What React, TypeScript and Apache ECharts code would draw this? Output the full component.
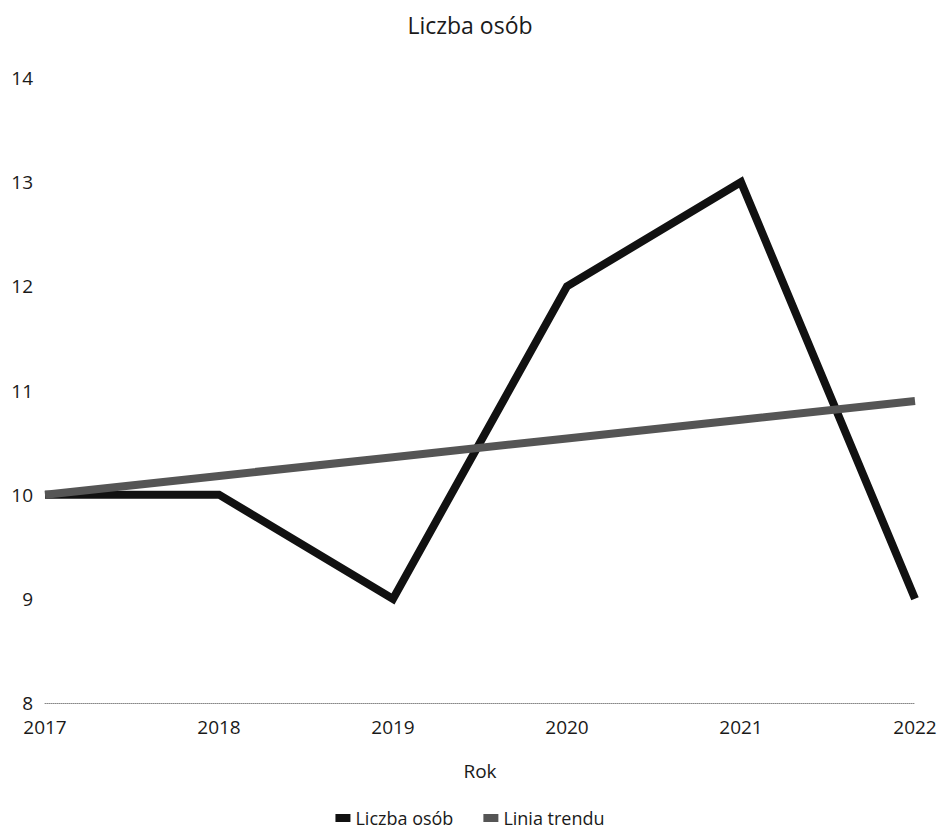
import React, { useEffect, useRef } from "react";
import * as echarts from "echarts";

const years = ["2017", "2018", "2019", "2020", "2021", "2022"];
const liczbaOsob = [10, 10, 9, 12, 13, 9];
const liniaTrendu = [10, 10.18, 10.36, 10.54, 10.72, 10.9];

const FONT = "'Open Sans', 'Noto Sans', sans-serif";

export default function App() {
  const ref = useRef<HTMLDivElement>(null);
  useEffect(() => {
    if (!ref.current) return;
    const chart = echarts.init(ref.current, null, { renderer: "svg" });
    chart.setOption({
      animation: false,
      backgroundColor: "#ffffff",
      title: {
        text: "Liczba osób",
        left: "center",
        top: 8,
        textStyle: { fontFamily: FONT, fontSize: 23, fontWeight: "normal", color: "#1a1a1a" },
      },
      legend: {
        bottom: 2,
        left: "center",
        itemWidth: 15,
        itemHeight: 8,
        itemGap: 30,
        icon: "rect",
        textStyle: { fontFamily: FONT, fontSize: 18, color: "#1a1a1a" },
        data: ["Liczba osób", "Linia trendu"],
      },
      grid: { left: 45, right: 25, top: 78, bottom: 131, containLabel: false },
      xAxis: {
        type: "category",
        data: years,
        boundaryGap: false,
        name: "Rok",
        nameLocation: "middle",
        nameGap: 58,
        nameTextStyle: { fontFamily: FONT, fontSize: 19, color: "#1a1a1a" },
        axisLine: { show: true, lineStyle: { color: "#888", type: "dotted", width: 1 } },
        axisTick: { show: false },
        axisLabel: { fontFamily: FONT, fontSize: 19, color: "#1a1a1a", margin: 14 },
      },
      yAxis: {
        type: "value",
        min: 8,
        max: 14,
        interval: 1,
        axisLine: { show: false },
        axisTick: { show: false },
        splitLine: { show: false },
        axisLabel: { fontFamily: FONT, fontSize: 19, color: "#1a1a1a", margin: 12 },
      },
      series: [
        {
          name: "Liczba osób",
          type: "line",
          data: liczbaOsob,
          symbol: "none",
          lineStyle: { color: "#111111", width: 8, join: "miter" },
          itemStyle: { color: "#111111" },
          z: 2,
        },
        {
          name: "Linia trendu",
          type: "line",
          data: liniaTrendu,
          symbol: "none",
          lineStyle: { color: "#555555", width: 8 },
          itemStyle: { color: "#555555" },
          z: 3,
        },
      ],
    });
    return () => chart.dispose();
  }, []);
  return <div ref={ref} style={{ width: 940, height: 834, position: "absolute", left: 0, top: 0 }} />;
}
